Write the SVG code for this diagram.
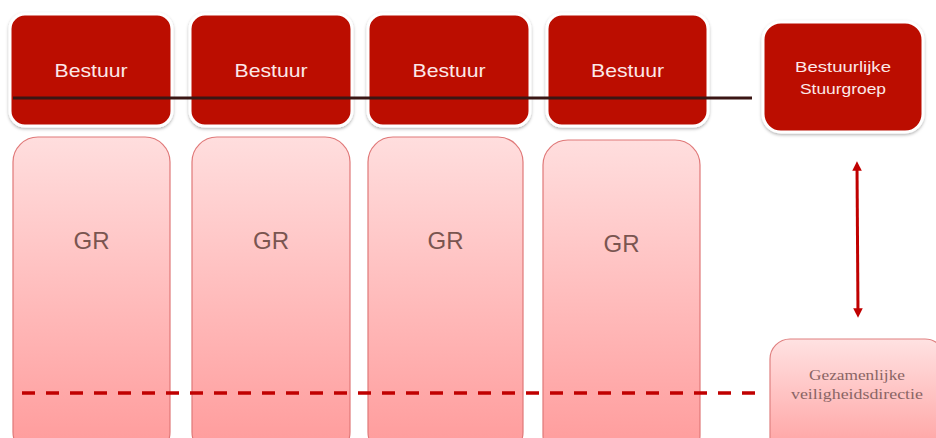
<svg xmlns="http://www.w3.org/2000/svg" width="936" height="438" viewBox="0 0 936 438">
<defs>
<linearGradient id="gr" x1="0" y1="0" x2="0" y2="1">
<stop offset="0" stop-color="#ffdede"/>
<stop offset="1" stop-color="#ff9a9a"/>
</linearGradient>
<linearGradient id="gz" x1="0" y1="0" x2="0" y2="1">
<stop offset="0" stop-color="#ffe2e2"/>
<stop offset="1" stop-color="#ff9e9e"/>
</linearGradient>
<filter id="sh" x="-10%" y="-10%" width="120%" height="130%">
<feDropShadow dx="0" dy="1.5" stdDeviation="1.5" flood-color="#000" flood-opacity="0.3"/>
</filter>
<marker id="ah" viewBox="0 0 10 10" refX="5" refY="5" markerWidth="3.2" markerHeight="3.2" orient="auto-start-reverse">
<path d="M0,0 L10,5 L0,10 z" fill="#c00000"/>
</marker>
<style>
.best{fill:#bb0c00;stroke:#ffffff;stroke-width:3;filter:url(#sh)}
.grb{fill:url(#gr);stroke:#e07878;stroke-width:1.2}
.t1{font-family:"Liberation Sans",Arial,sans-serif;font-size:19px;fill:#fbe8e8;text-anchor:middle}
.t2{font-family:"Liberation Sans",Arial,sans-serif;font-size:15px;fill:#fbe8e8;text-anchor:middle}
.tgr{font-family:"Liberation Sans",Arial,sans-serif;font-size:24px;fill:#7a5550;text-anchor:middle}
.tgz{font-family:"Liberation Serif","Times New Roman",serif;font-size:14px;fill:#8a6565;text-anchor:middle}
</style>
</defs>
<rect width="936" height="438" fill="#ffffff"/>
<g id="gr1"><rect class="grb" x="13" y="137" width="157" height="320" rx="25"/><text class="tgr" x="91.5" y="249">GR</text></g>
<g id="gr2"><rect class="grb" x="192" y="137" width="158" height="320" rx="25"/><text class="tgr" x="271" y="249">GR</text></g>
<g id="gr3"><rect class="grb" x="368" y="137" width="155" height="320" rx="25"/><text class="tgr" x="445.5" y="249">GR</text></g>
<g id="gr4"><rect class="grb" x="543" y="140" width="157" height="320" rx="25"/><text class="tgr" x="621.5" y="252">GR</text></g>
<g id="gezamenlijke"><rect x="770" y="339" width="175" height="120" rx="20" fill="url(#gz)" stroke="#e08080" stroke-width="1.2"/><text class="tgz" x="857" y="380" textLength="96" lengthAdjust="spacingAndGlyphs">Gezamenlijke</text><text class="tgz" x="857" y="399" textLength="132" lengthAdjust="spacingAndGlyphs">veiligheidsdirectie</text></g>
<g id="bestuur1"><rect class="best" x="10" y="14" width="162" height="112" rx="15"/><text class="t1" x="91" y="77" textLength="73" lengthAdjust="spacingAndGlyphs">Bestuur</text></g>
<g id="bestuur2"><rect class="best" x="190" y="14" width="162" height="112" rx="15"/><text class="t1" x="271" y="77" textLength="73" lengthAdjust="spacingAndGlyphs">Bestuur</text></g>
<g id="bestuur3"><rect class="best" x="368" y="14" width="162" height="112" rx="15"/><text class="t1" x="449" y="77" textLength="73" lengthAdjust="spacingAndGlyphs">Bestuur</text></g>
<g id="bestuur4"><rect class="best" x="547" y="14" width="161" height="112" rx="15"/><text class="t1" x="627.5" y="77" textLength="73" lengthAdjust="spacingAndGlyphs">Bestuur</text></g>
<g id="stuurgroep"><rect class="best" x="763" y="22" width="160" height="110" rx="18"/><text class="t2" x="843" y="72" textLength="96" lengthAdjust="spacingAndGlyphs">Bestuurlijke</text><text class="t2" x="843" y="94" textLength="86" lengthAdjust="spacingAndGlyphs">Stuurgroep</text></g>
<g id="connectors">
<line x1="13" y1="98" x2="752" y2="98" stroke="#3a1614" stroke-width="3"/>
<line x1="22" y1="393" x2="756" y2="393" stroke="#c00000" stroke-width="3.5" stroke-dasharray="13 11"/>
<line x1="857" y1="166" x2="858" y2="313" stroke="#c00000" stroke-width="3" marker-start="url(#ah)" marker-end="url(#ah)"/>
</g>
</svg>
